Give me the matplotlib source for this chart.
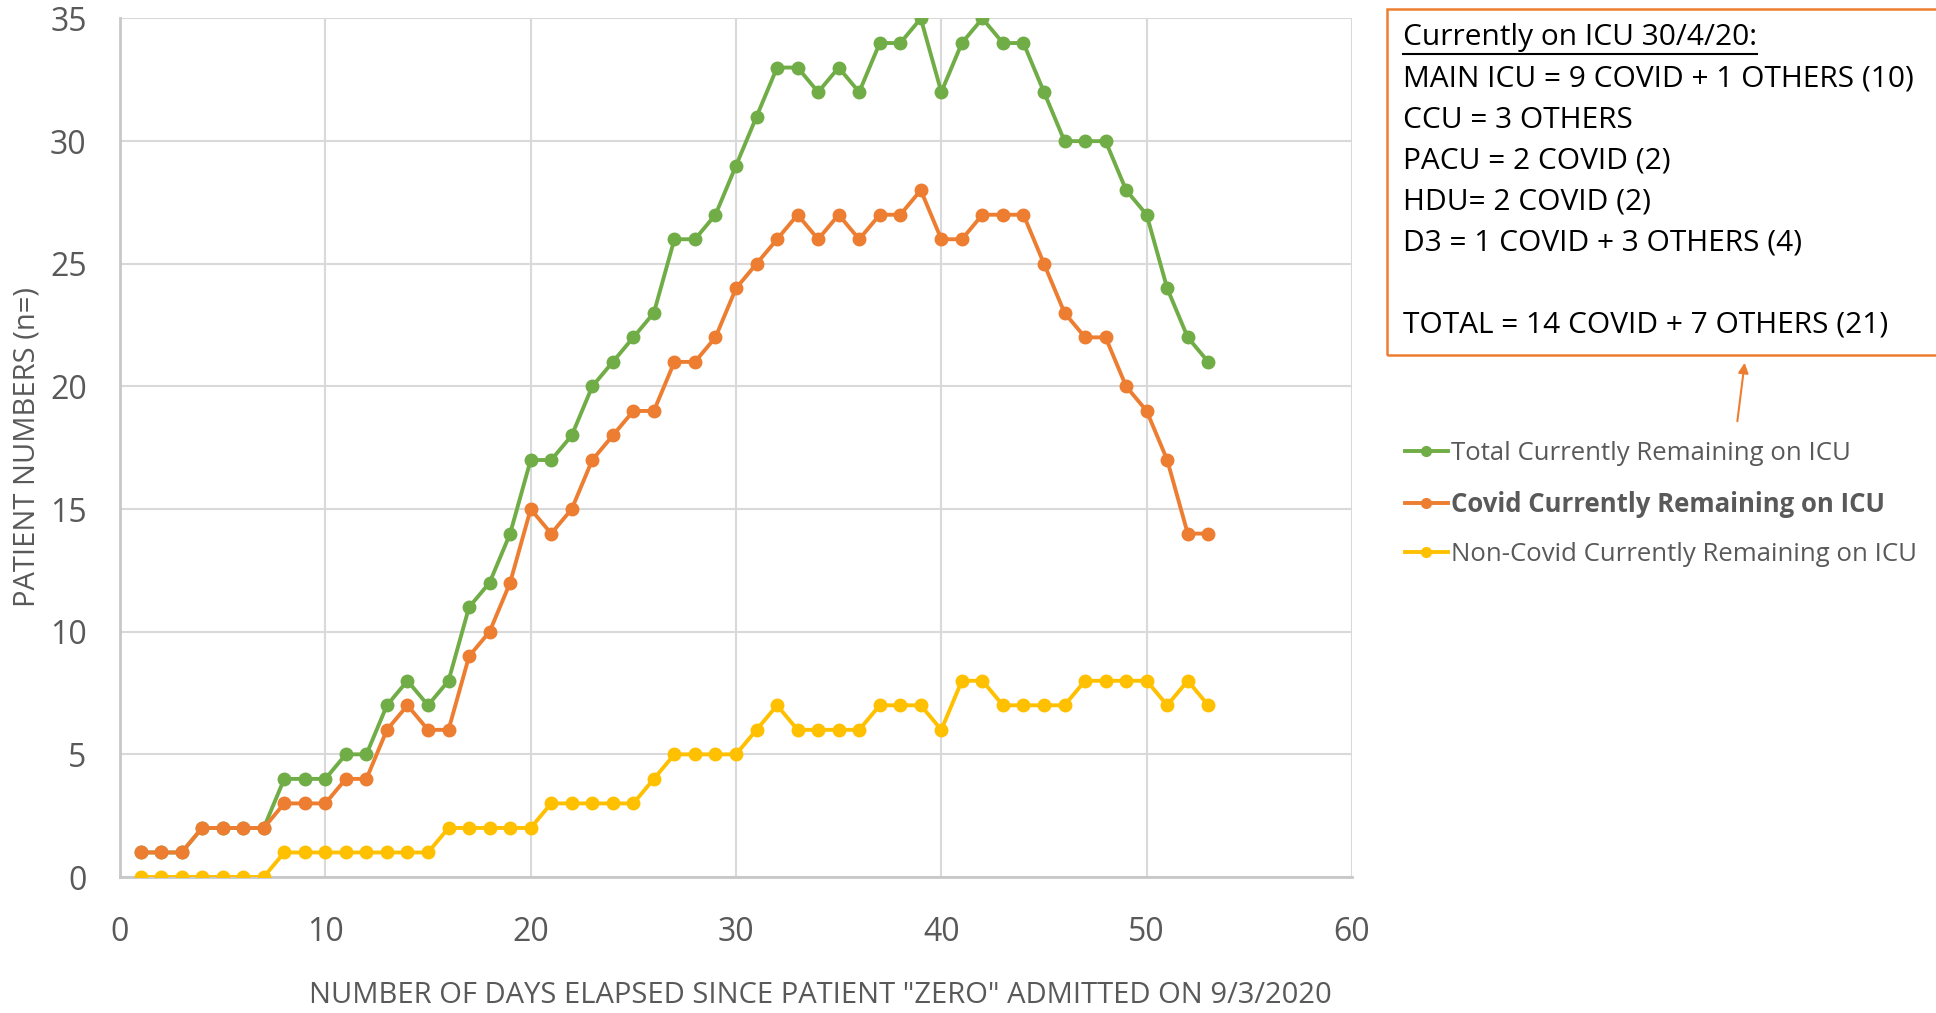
import numpy as np
import matplotlib.pyplot as plt

# data
days = list(range(1, 54))
total = [1, 1, 1, 2, 2, 2, 2, 4, 4, 4, 5, 5, 7, 8, 7, 8, 11, 12, 14, 17,
         17, 18, 20, 21, 22, 23, 26, 26, 27, 29, 31, 33, 33, 32, 33, 32, 34, 34, 35, 32,
         34, 35, 34, 34, 32, 30, 30, 30, 28, 27, 24, 22, 21]
covid = [1, 1, 1, 2, 2, 2, 2, 3, 3, 3, 4, 4, 6, 7, 6, 6, 9, 10, 12, 15,
         14, 15, 17, 18, 19, 19, 21, 21, 22, 24, 25, 26, 27, 26, 27, 26, 27, 27, 28, 26,
         26, 27, 27, 27, 25, 23, 22, 22, 20, 19, 17, 14, 14]
noncovid = [0, 0, 0, 0, 0, 0, 0, 1, 1, 1, 1, 1, 1, 1, 1, 2, 2, 2, 2, 2,
            3, 3, 3, 3, 3, 4, 5, 5, 5, 5, 6, 7, 6, 6, 6, 6, 7, 7, 7, 6,
            8, 8, 7, 7, 7, 7, 8, 8, 8, 8, 7, 8, 7]
labels = ["Total Currently Remaining on ICU",
          "Covid Currently Remaining on ICU",
          "Non-Covid Currently Remaining on ICU"]
colors = ["#70AD47", "#ED7D31", "#FFC000"]

box_title = "Currently on ICU 30/4/20:"
box_lines = ["MAIN ICU = 9 COVID + 1 OTHERS (10)",
             "CCU = 3 OTHERS",
             "PACU = 2 COVID (2)",
             "HDU= 2 COVID (2)",
             "D3 = 1 COVID + 3 OTHERS (4)",
             "",
             "TOTAL = 14 COVID + 7 OTHERS (21)"]

plt.rcParams['font.family'] = ['Open Sans', 'DejaVu Sans']

fig = plt.figure(figsize=(19.36, 10.13), dpi=100)
ax = fig.add_axes([120/1936, 1-877/1013, (1352-120)/1936, (877-18.5)/1013])

handles = []
for ys, c in zip([total, covid, noncovid], colors):
    h, = ax.plot(days, ys, color=c, lw=2.8, marker='o', ms=9, zorder=3)
    handles.append(h)

ax.set_xlim(0, 60)
ax.set_ylim(0, 35)
ax.set_xticks(range(0, 61, 10))
ax.set_yticks(range(0, 36, 5))
ax.grid(True, color="#D9D9D9", lw=1.5)
ax.set_axisbelow(True)
for s in ['top', 'right']:
    ax.spines[s].set_visible(False)
for s in ['left', 'bottom']:
    ax.spines[s].set_color("#C8C8C8")
    ax.spines[s].set_linewidth(2)
ax.tick_params(length=0, labelsize=23, labelcolor="#595959")
ax.tick_params(axis='x', pad=28)
ax.tick_params(axis='y', pad=24)

fig.text(27/1936, 1-447/1013, "PATIENT NUMBERS (n=)", rotation=90, fontsize=21,
         color="#595959", ha='center', va='center')
fig.text(820/1936, 1-995/1013, 'NUMBER OF DAYS ELAPSED SINCE PATIENT "ZERO" ADMITTED ON 9/3/2020',
         fontsize=21, color="#595959", ha='center', va='center')

# text box
rect = plt.Rectangle((1387/1936, 1-355/1013), 0.3, (355-9)/1013, transform=fig.transFigure,
                     fill=False, edgecolor="#ED7D31", lw=1.8)
fig.patches.append(rect)
t = fig.text(1403/1936, 1-38/1013, box_title, fontsize=21.5, color="black", va='center')
fig.canvas.draw()
bb = t.get_window_extent()
fig.add_artist(plt.Line2D([bb.x0/1936, bb.x1/1936], [1-54/1013, 1-54/1013],
                          transform=fig.transFigure, color="black", lw=1.5))
for i, line in enumerate(box_lines):
    fig.text(1403/1936, 1-(79 + 41*i)/1013, line, fontsize=21.5, color="black", va='center')

ax.annotate("", xy=(1745/1936, 1-360/1013), xytext=(1737/1936, 1-424/1013),
            xycoords='figure fraction', textcoords='figure fraction',
            arrowprops=dict(arrowstyle='-|>', color="#ED7D31", lw=1.5, mutation_scale=15))

leg = fig.legend(handles, labels, loc='upper left', bbox_to_anchor=(1382/1936, 1-418/1013),
                 frameon=False, fontsize=18.5, handlelength=1.65, handletextpad=0.12,
                 labelspacing=0.95, labelcolor="#595959")
for h in leg.legend_handles:
    h.set_markersize(7)
leg.get_texts()[1].set_fontweight('bold')

fig.savefig("out.png", dpi=100)
